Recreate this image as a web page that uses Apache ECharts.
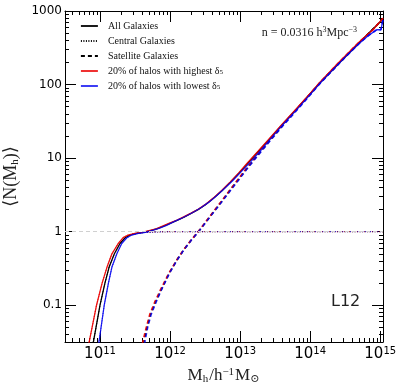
<!DOCTYPE html>
<html>
<head>
<meta charset="utf-8">
<script src="https://cdn.jsdelivr.net/npm/echarts@6/dist/echarts.min.js"></script>
<style>html,body{margin:0;padding:0;background:#fff}#chart{width:399px;height:389px}</style>
</head>
<body>
<div id="chart"></div>
<script>
// [log10(Mh), <N(Mh)>]
const blackAll = [[10.86,0.024],[10.905,0.0316],[11.0,0.1],[11.07,0.2],[11.13,0.33],[11.205,0.5],[11.285,0.69],[11.355,0.82],[11.425,0.9],[11.52,0.95],[11.62,0.98],[11.72,1.03],[11.82,1.1],[11.9,1.18],[12.0,1.3],[12.1,1.42],[12.2,1.58],[12.3,1.77],[12.4,1.99],[12.5,2.31],[12.62,2.85],[12.74,3.6],[12.86,4.7],[12.98,6.2],[13.1,8.3],[13.25,12.0],[13.4,17.3],[13.6,28.4],[13.8,46],[14.0,75],[14.14,106],[14.4,190],[14.7,370],[15.04,780]];
const blackCen = [[10.86,0.024],[10.905,0.0316],[11.0,0.1],[11.07,0.2],[11.13,0.33],[11.205,0.5],[11.285,0.69],[11.355,0.82],[11.425,0.9],[11.52,0.95],[11.62,0.975],[11.8,0.995],[12.0,1.0],[15.04,1.0]];
const blackSat = [[11.595,0.024],[11.625,0.0316],[11.67,0.05],[11.72,0.075],[11.79,0.11],[11.87,0.16],[11.985,0.27],[12.1,0.415],[12.2,0.575],[12.3,0.765],[12.4,0.99],[12.5,1.31],[12.62,1.85],[12.74,2.6],[12.86,3.7],[12.98,5.2],[13.1,7.3],[13.25,11.0],[13.4,16.3],[13.6,27.4],[13.8,45],[14.0,74],[14.14,105],[14.4,189],[14.7,369],[15.04,779]];

const redAll = [[10.8,0.024],[10.845,0.0316],[10.95,0.1],[11.03,0.2],[11.1,0.33],[11.17,0.5],[11.26,0.69],[11.33,0.83],[11.4,0.9],[11.5,0.95],[11.6,0.98],[11.7,1.03],[11.8,1.09],[11.9,1.2],[12.0,1.32],[12.1,1.44],[12.2,1.6],[12.3,1.79],[12.4,2.02],[12.5,2.33],[12.62,2.88],[12.74,3.65],[12.86,4.75],[12.98,6.3],[13.1,8.5],[13.25,12.2],[13.4,17.6],[13.6,28.9],[13.8,46.7],[14.0,76],[14.14,108],[14.4,196],[14.7,380],[14.9,560],[15.04,800]];
const redCen = [[10.8,0.024],[10.845,0.0316],[10.95,0.1],[11.03,0.2],[11.1,0.33],[11.17,0.5],[11.26,0.69],[11.33,0.83],[11.4,0.9],[11.5,0.95],[11.6,0.975],[11.8,0.995],[12.0,1.0],[15.04,1.0]];
const redSat = [[11.58,0.024],[11.61,0.0316],[11.66,0.05],[11.71,0.075],[11.78,0.11],[11.86,0.16],[11.98,0.27],[12.1,0.42],[12.2,0.58],[12.3,0.77],[12.4,1.0],[12.5,1.33],[12.62,1.88],[12.74,2.65],[12.86,3.75],[12.98,5.3],[13.1,7.5],[13.25,11.2],[13.4,16.6],[13.6,27.9],[13.8,45.7],[14.0,75],[14.14,107],[14.4,195],[14.7,379],[14.9,559],[15.04,799]];

const blueAll = [[10.95,0.024],[10.985,0.0316],[11.06,0.1],[11.12,0.2],[11.17,0.33],[11.24,0.5],[11.31,0.69],[11.38,0.82],[11.45,0.9],[11.55,0.95],[11.65,0.98],[11.75,1.04],[11.85,1.12],[11.95,1.22],[12.05,1.36],[12.15,1.5],[12.25,1.67],[12.35,1.88],[12.45,2.15],[12.55,2.5],[12.66,3.05],[12.78,3.9],[12.9,5.0],[13.02,6.6],[13.15,8.9],[13.3,12.9],[13.45,19.0],[13.6,27.8],[13.8,44.6],[14.0,73],[14.14,104],[14.3,150],[14.5,236],[14.7,362],[14.82,455],[14.95,556],[15.01,556],[15.04,760]];
const blueCen = [[10.95,0.024],[10.985,0.0316],[11.06,0.1],[11.12,0.2],[11.17,0.33],[11.24,0.5],[11.31,0.69],[11.38,0.82],[11.45,0.9],[11.55,0.95],[11.65,0.975],[11.85,0.995],[12.05,1.0],[15.04,1.0]];
const blueSat = [[11.61,0.024],[11.64,0.0316],[11.68,0.05],[11.73,0.075],[11.8,0.11],[11.875,0.16],[11.99,0.27],[12.1,0.41],[12.2,0.57],[12.3,0.76],[12.4,0.98],[12.5,1.3],[12.62,1.82],[12.74,2.55],[12.86,3.6],[12.98,5.05],[13.1,7.15],[13.25,10.7],[13.4,15.9],[13.6,26.8],[13.8,43.6],[14.0,72],[14.14,103],[14.3,149],[14.5,235],[14.7,361],[14.82,454],[14.95,555],[15.01,555],[15.04,759]];

const ALL = "All Galaxies", CEN = "Central Galaxies", SAT = "Satellite Galaxies";
const HI = "20% of halos with highest δ5", LO = "20% of halos with lowest δ5";

const xMajor = [1e11, 1e12, 1e13, 1e14, 1e15];
const yMajor = [0.1, 1, 10, 100, 1000];
const mults = [2, 3, 4, 5, 6, 7, 8, 9];
const xMinor = [10, 11, 12, 13, 14].flatMap(e => mults.map(k => k * 10 ** e)).filter(v => v > 3.2e10);
const yMinor = [-2, -1, 0, 1, 2].flatMap(e => mults.map(k => +(k * 10 ** e).toPrecision(3))).filter(v => v > 0.032);

const xMin = 10 ** 10.5, xMax = 10 ** 15.04, yMin = 10 ** -1.5, yMax = 1000;

const RED = "rgba(235,0,0,0.9)", BLUE = "rgba(0,0,240,0.85)";

function line(name, pts, color, type, width, z) {
  return {
    type: "line", name, z, symbol: "none", showSymbol: false, animation: false,
    data: pts.map(p => [10 ** p[0], p[1]]),
    lineStyle: { color, type, width }, itemStyle: { color },
  };
}

const DASH = [4, 3], DOT = [1, 1.5];
const series = [
  line(ALL, blackAll, "#000", "solid", 1.3, 2),
  line(CEN, blackCen, "#000", DOT, 1, 2),
  line(SAT, blackSat, "#000", DASH, 1.6, 2),
  line(HI, redAll, RED, "solid", 1.3, 3),
  line(HI, redCen, RED, DOT, 1, 3),
  line(HI, redSat, RED, DASH, 1.6, 3),
  line(LO, blueAll, BLUE, "solid", 1.3, 4),
  line(LO, blueCen, BLUE, DOT, 1, 4),
  line(LO, blueSat, BLUE, DASH, 1.6, 4),
];
series[0].markLine = {
  silent: true, symbol: "none", label: { show: false }, animation: false,
  lineStyle: { color: "#d0d0d0", type: [4, 3], width: 1 },
  data: [{ yAxis: 1 }],
};

const serif = "'Liberation Serif', 'DejaVu Serif', serif";
const sans = "'DejaVu Sans', sans-serif";
const tickStyle = { color: "#000", width: 1 };

function xAx(pos, major) {
  return {
    type: "log", logBase: 10, position: pos, min: xMin, max: xMax, gridIndex: 0,
    axisLine: { show: major, lineStyle: { color: "#000", width: 1 } },
    splitLine: { show: false },
    axisTick: { show: true, inside: true, length: major ? 11 : 4, lineStyle: tickStyle, customValues: major ? xMajor : xMinor },
    axisLabel: { show: false },
  };
}
function yAx(pos, major) {
  return {
    type: "log", logBase: 10, position: pos, min: yMin, max: yMax, gridIndex: 0,
    axisLine: { show: major, lineStyle: { color: "#000", width: 1 } },
    splitLine: { show: false },
    axisTick: { show: true, inside: true, length: major ? 11 : 4, lineStyle: tickStyle, customValues: major ? yMajor : yMinor },
    axisLabel: { show: false },
  };
}

const xAxes = [xAx("bottom", true), xAx("bottom", false), xAx("top", true), xAx("top", false)];
const yAxes = [yAx("left", true), yAx("left", false), yAx("right", true), yAx("right", false)];

Object.assign(xAxes[0], {
  name: "{t|M}{sub|h}{t|/h}{sup|−1}{t|M}{sub|⊙}",
  nameLocation: "middle", nameGap: 23,
  nameTextStyle: {
    color: "#222",
    rich: {
      t: { fontFamily: serif, fontSize: 17, color: "#222" },
      sub: { fontFamily: serif, fontSize: 11, color: "#222", verticalAlign: "bottom", padding: [7, 1, 0, 0] },
      sup: { fontFamily: serif, fontSize: 11, color: "#222", verticalAlign: "top", padding: [0, 1, 7, 0] },
    },
  },
});
xAxes[0].axisLabel = {
  show: true, customValues: xMajor, margin: 4,
  formatter: v => "{b|10}{s|" + Math.round(Math.log10(v)) + "}",
  rich: {
    b: { fontFamily: sans, fontSize: 15, color: "#000" },
    s: { fontFamily: sans, fontSize: 10, color: "#000", verticalAlign: "top", padding: [0, 0, 6, 0] },
  },
};
Object.assign(yAxes[0], {
  name: "{t|⟨N(M}{sub|h}{t|)⟩}",
  nameLocation: "middle", nameGap: 40,
  nameTextStyle: {
    color: "#222",
    rich: {
      t: { fontFamily: serif, fontSize: 18, color: "#222" },
      sub: { fontFamily: serif, fontSize: 11, color: "#222", verticalAlign: "bottom", padding: [7, 0, 0, 0] },
    },
  },
});
yAxes[0].axisLabel = {
  show: true, customValues: yMajor, margin: 3,
  fontFamily: sans, fontSize: 12, color: "#000",
  formatter: v => (v < 1 ? "0.1" : String(Math.round(v))),
};

const chart = echarts.init(document.getElementById("chart"), null, { renderer: "canvas" });
chart.setOption({
  backgroundColor: "#fff",
  animation: false,
  grid: { left: 65, right: 16, top: 11, bottom: 47, containLabel: false, outerBoundsMode: "none" },
  xAxis: xAxes,
  yAxis: yAxes,
  legend: {
    orient: "vertical", left: 75, top: 16,
    itemWidth: 17, itemHeight: 10, itemGap: 5,
    data: [ALL, CEN, SAT, HI, LO],
    itemStyle: { opacity: 0 },
    lineStyle: { width: 1.8 },
    formatter: n => n.replace("δ5", "δ{sub|5}"),
    textStyle: {
      fontFamily: serif, fontSize: 10, color: "#111", lineHeight: 10, padding: [0, 0, 0, 5],
      rich: { sub: { fontFamily: serif, fontSize: 7, color: "#111", verticalAlign: "bottom", lineHeight: 10 } },
    },
  },
  graphic: [
    {
      type: "text", right: 42, top: 26,
      style: { text: "{a|n = 0.0316 h}{s|3}{a|Mpc}{s|−3}", fill: "#222",
        rich: { a: { fontFamily: serif, fontSize: 12, fill: "#222" }, s: { fontFamily: serif, fontSize: 8, fill: "#222", verticalAlign: "top", padding: [0, 0, 5, 0] } } },
    },
    {
      type: "text", left: 331, top: 294,
      style: { text: "L12", fontFamily: sans, fontSize: 16, fill: "#222" },
    },
  ],
  series,
});
</script>
</body>
</html>
